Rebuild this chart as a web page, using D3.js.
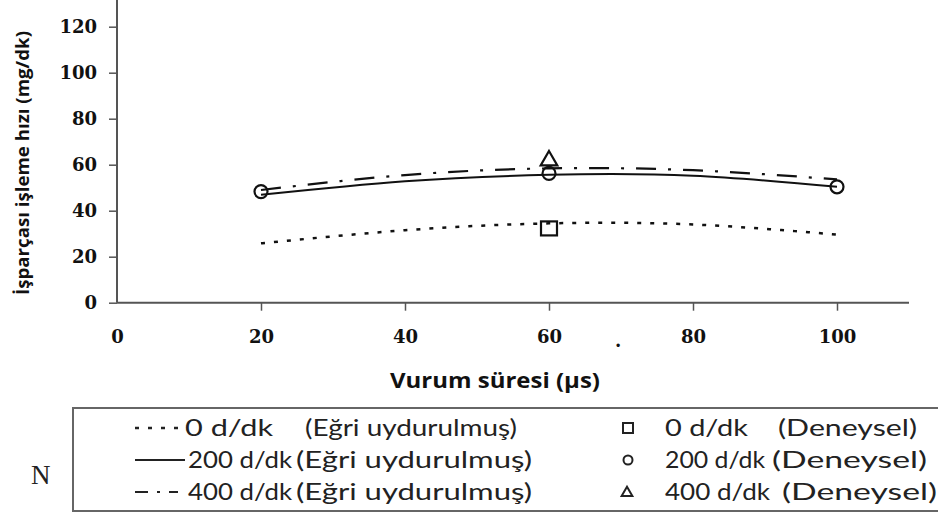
<!DOCTYPE html>
<html>
<head>
<meta charset="utf-8">
<script src="https://cdn.jsdelivr.net/npm/d3@7"></script>
<style>
  body { margin: 0; background: #fff; }
  svg { display: block; }
</style>
</head>
<body>
<div id="root"></div>
<script>
// x values (pulse duration, µs)
const fitTimes = [20, 40, 60, 80, 100];
// fitted curves
const fit0 = [25.8, 31.5, 34.5, 34.0, 29.6];
const fit200 = [46.9, 52.8, 55.6, 55.2, 50.4];
const fit400 = [49.0, 55.5, 58.4, 57.6, 53.6];

// experimental points
const exp0Times = [60];
const exp0 = [32.3];
const exp200Times = [20, 60, 100];
const exp200 = [48.3, 56.2, 50.4];
const exp400Times = [60];
const exp400 = [61.8];

const xTicks = [0, 20, 40, 60, 80, 100];
const yTicks = [0, 20, 40, 60, 80, 100, 120];

const yTitle = 'İşparçası işleme hızı (mg/dk)';
const xTitle = 'Vurum süresi (µs)';
const legendSpeeds = ['0 d/dk', '200 d/dk', '400 d/dk'];
const legendFitNote = '(Eğri uydurulmuş)';
const legendExpNote = '(Deneysel)';

function drawChart() {
  const dimensions = { width: 938, height: 515 };

  const xScale = d3.scaleLinear().domain([0, 100]).range([117, 837]);
  const yScale = d3.scaleLinear().domain([0, 120]).range([302.7, 26.7]);

  const svg = d3
    .select('#root')
    .append('svg')
    .attr('width', dimensions.width)
    .attr('height', dimensions.height)
    .attr('viewBox', [0, 0, dimensions.width, dimensions.height]);

  const axisColor = '#555';

  // axes
  const xAxisGroup = svg
    .append('g')
    .attr('transform', `translate(0, ${yScale(0)})`)
    .call(
      d3.axisBottom(xScale).tickValues(xTicks).tickSize(8).tickPadding(20)
    );
  xAxisGroup.select('path').remove();
  xAxisGroup.append('line')
    .attr('x1', xScale(0))
    .attr('x2', xScale(110))
    .attr('stroke', axisColor)
    .attr('stroke-width', 2);

  const yAxisGroup = svg
    .append('g')
    .attr('transform', `translate(${xScale(0)}, 0)`)
    .call(d3.axisLeft(yScale).tickValues(yTicks).tickSize(8).tickPadding(12));
  yAxisGroup.select('path').remove();
  yAxisGroup.append('line')
    .attr('y1', yScale(0))
    .attr('y2', 0)
    .attr('stroke', axisColor)
    .attr('stroke-width', 2);

  svg.selectAll('.tick line').attr('stroke', axisColor).attr('stroke-width', 1.5);
  svg.selectAll('.tick text')
    .attr('font-family', 'DejaVu Serif')
    .attr('font-weight', 'bold')
    .attr('font-size', 18)
    .attr('fill', '#111');
  xAxisGroup.selectAll('.tick line').attr('y1', 0);
  xAxisGroup.selectAll('.tick').filter(d => d === 0).select('line').remove();

  // stray dot in the tick row
  svg.append('text')
    .attr('x', 615)
    .attr('y', 347)
    .attr('font-family', 'DejaVu Serif')
    .attr('font-weight', 'bold')
    .attr('font-size', 18)
    .attr('fill', '#111')
    .text('.');

  // titles
  svg.append('text')
    .attr('transform', `translate(29, ${(30 + 296) / 2}) rotate(-90)`)
    .attr('text-anchor', 'middle')
    .attr('font-family', 'Open Sans')
    .attr('font-weight', 'bold')
    .attr('font-size', 17)
    .attr('textLength', 264)
    .attr('lengthAdjust', 'spacingAndGlyphs')
    .attr('fill', '#111')
    .text(yTitle);

  svg.append('text')
    .attr('x', 495)
    .attr('y', 388)
    .attr('text-anchor', 'middle')
    .attr('font-family', 'Open Sans')
    .attr('font-weight', 'bold')
    .attr('font-size', 21)
    .attr('textLength', 210)
    .attr('lengthAdjust', 'spacingAndGlyphs')
    .attr('fill', '#111')
    .text(xTitle);

  // fitted curves
  const fitSeries = [
    { values: fit0, dash: '4,9', width: 2.5, legendDash: '4,9' },
    { values: fit200, dash: null, width: 2, legendDash: null },
    { values: fit400, dash: '20,12,3,12', width: 2.2, legendDash: '13,9,3,9' },
  ];

  const lineGenerator = d3
    .line()
    .x((d, i) => xScale(fitTimes[i]))
    .y(d => yScale(d))
    .curve(d3.curveNatural);

  const curveGroup = svg.append('g');
  fitSeries.forEach(s => {
    curveGroup.append('path')
      .attr('d', lineGenerator(s.values))
      .attr('fill', 'none')
      .attr('stroke', '#111')
      .attr('stroke-width', s.width)
      .attr('stroke-dasharray', s.dash);
  });

  // experimental markers
  const markerGroup = svg.append('g')
    .attr('fill', 'none')
    .attr('stroke', '#111')
    .attr('stroke-width', 2.2);

  markerGroup.selectAll('rect')
    .data(exp0)
    .join('rect')
    .attr('x', (d, i) => xScale(exp0Times[i]) - 8)
    .attr('y', d => yScale(d) - 7)
    .attr('width', 16)
    .attr('height', 14);

  markerGroup.selectAll('circle')
    .data(exp200)
    .join('circle')
    .attr('cx', (d, i) => xScale(exp200Times[i]))
    .attr('cy', d => yScale(d))
    .attr('r', 6.5);

  const triangle = d3.symbol().type(d3.symbolTriangle).size(120);
  markerGroup.selectAll('path.tri')
    .data(exp400)
    .join('path')
    .attr('class', 'tri')
    .attr('transform', (d, i) => `translate(${xScale(exp400Times[i])}, ${yScale(d)})`)
    .attr('d', triangle);

  // legend
  const legend = svg.append('g');
  legend.append('rect')
    .attr('x', 73)
    .attr('y', 408)
    .attr('width', 900)
    .attr('height', 103)
    .attr('fill', 'none')
    .attr('stroke', '#666')
    .attr('stroke-width', 2);

  legend.append('text')
    .attr('x', 31)
    .attr('y', 484)
    .attr('font-family', 'Liberation Serif')
    .attr('font-size', 27)
    .attr('fill', '#222')
    .text('N');

  const rowY = [428, 460, 492];
  const legendText = (x, y, width, label) => legend.append('text')
    .attr('x', x)
    .attr('y', y)
    .attr('dy', '0.35em')
    .attr('font-family', 'Lato')
    .attr('font-size', 24)
    .attr('fill', '#222')
    .attr('textLength', width)
    .attr('lengthAdjust', 'spacingAndGlyphs')
    .text(label);

  // [start, width] of each legend text piece, left column then right column
  const fitSpeedBox = [[185, 88], [188, 104], [188, 104]];
  const fitNoteBox = [[305, 212], [296, 236], [296, 236]];
  const expSpeedBox = [[665, 83], [665, 100], [665, 105]];
  const expNoteBox = [[778, 139], [772, 155], [782, 155]];

  fitSeries.forEach((s, i) => {
    legend.append('line')
      .attr('x1', 135)
      .attr('x2', i === 1 ? 185 : 178)
      .attr('y1', rowY[i])
      .attr('y2', rowY[i])
      .attr('stroke', '#222')
      .attr('stroke-width', s.width)
      .attr('stroke-dasharray', s.legendDash);
    legendText(fitSpeedBox[i][0], rowY[i], fitSpeedBox[i][1], legendSpeeds[i]);
    legendText(fitNoteBox[i][0], rowY[i], fitNoteBox[i][1], legendFitNote);
    legendText(expSpeedBox[i][0], rowY[i], expSpeedBox[i][1], legendSpeeds[i]);
    legendText(expNoteBox[i][0], rowY[i], expNoteBox[i][1], legendExpNote);
  });

  const legendMarkers = legend.append('g')
    .attr('fill', 'none')
    .attr('stroke', '#222')
    .attr('stroke-width', 2);
  legendMarkers.append('rect')
    .attr('x', 623).attr('y', rowY[0] - 5)
    .attr('width', 10).attr('height', 10);
  legendMarkers.append('circle')
    .attr('cx', 628).attr('cy', rowY[1]).attr('r', 4.5);
  legendMarkers.append('path')
    .attr('transform', `translate(627, ${rowY[2] + 1})`)
    .attr('d', d3.symbol().type(d3.symbolTriangle).size(50));
}

drawChart();
</script>
</body>
</html>
